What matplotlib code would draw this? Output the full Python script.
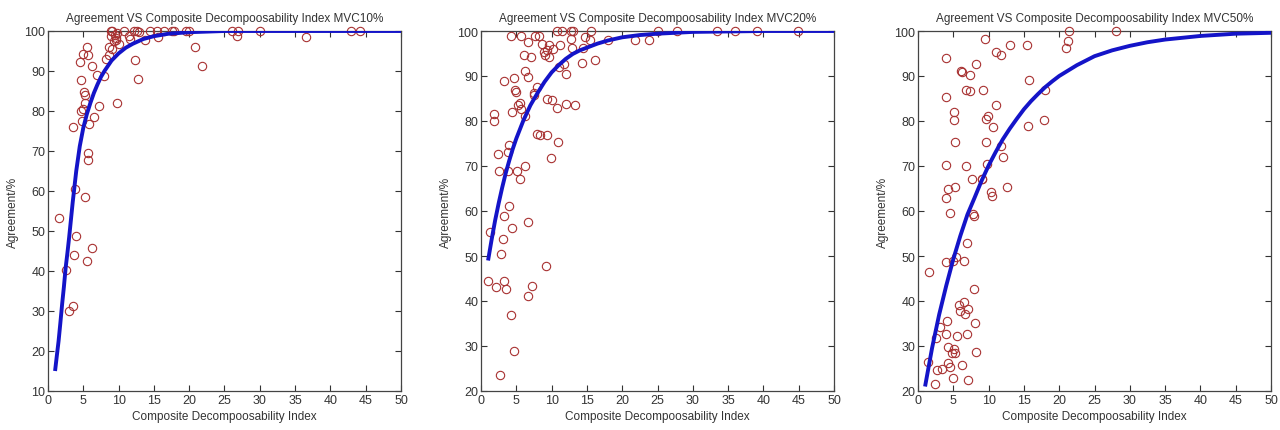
import matplotlib
matplotlib.use("Agg")
import matplotlib.pyplot as plt

plt.rcParams['font.family'] = ['Liberation Sans Narrow', 'Liberation Sans', 'DejaVu Sans']

# ---- MVC10% ----
cdi_10 = [1.56, 2.6, 3.0, 3.6, 3.7, 4.0, 3.8, 3.5, 5.5, 6.2, 5.3, 5.6, 5.6, 6.5, 7.2,
          5.8, 4.8, 4.7, 5.0, 5.3, 5.1, 5.3, 4.7, 4.6, 5.0, 5.7, 5.5, 6.2, 6.9, 7.9,
          8.2, 8.7, 9.0, 9.3, 8.9, 8.9, 9.1, 9.5, 9.8, 9.7, 9.8, 10.8, 11.5, 11.6, 12.2,
          12.6, 12.9, 12.3, 12.8, 13.8, 14.4, 15.4, 15.6, 16.5, 17.6, 17.9, 19.6, 20.0,
          20.8, 21.8, 26.1, 26.8, 26.9, 30.0, 36.5, 42.9, 44.2, 9.6, 10.0, 8.6]
agr_10 = [53.2, 40.3, 29.9, 31.3, 44.0, 48.7, 60.4, 76.0, 42.6, 45.7, 58.4, 69.6, 67.7, 78.5, 81.2,
          76.7, 77.6, 79.9, 80.5, 82.1, 84.7, 84.1, 87.7, 92.2, 94.2, 94.0, 96.0, 91.2, 89.0, 88.8,
          92.9, 94.1, 95.6, 97.5, 98.7, 100, 100, 99.1, 99.4, 97.7, 82.0, 100, 98.7, 98.1, 100,
          100, 99.7, 92.7, 88.0, 97.8, 100, 100, 98.5, 100, 100, 100, 100, 100,
          95.9, 91.3, 100, 98.7, 100, 100, 98.4, 100, 100, 98.2, 96.8, 96.0]
fit_x_10 = [1, 1.25, 1.5, 1.75, 2, 2.25, 2.5, 2.75, 3, 3.5, 4, 4.5, 5, 5.5, 6, 6.5, 7, 7.5,
            8, 9, 10, 11, 12, 13.5, 15, 17, 20, 25, 50]
fit_y_10 = [15, 18.8, 22.5, 27, 31.7, 36, 40.8, 44.5, 48.5, 57.2, 65, 71.2, 75.8, 79.2, 82, 84.5,
            86.6, 88.5, 90, 92.6, 94.4, 95.8, 96.8, 98, 98.7, 99.3, 99.7, 100, 100]

# ---- MVC20% ----
cdi_20 = [1.0, 1.3, 1.9, 1.9, 2.1, 2.4, 2.6, 2.7, 2.8, 3.1, 3.2, 3.3, 3.3, 3.6, 3.8, 3.9,
          3.9, 3.8, 4.2, 4.3, 4.4, 4.4, 4.7, 4.7, 4.8, 4.9, 5.1, 5.2, 5.5, 5.5, 5.6, 5.6,
          6.1, 6.2, 6.2, 6.3, 6.6, 6.6, 6.7, 6.7, 7.1, 7.2, 7.5, 7.5, 7.7, 7.9, 8.0, 8.2,
          8.3, 8.6, 8.9, 9.0, 9.2, 9.3, 9.3, 9.4, 9.6, 9.7, 9.97, 10.1, 10.2, 10.7, 10.7,
          10.9, 11.0, 11.2, 11.5, 11.8, 12.0, 12.1, 12.7, 12.8, 13.0, 12.9, 13.3, 14.3,
          14.4, 14.7, 15.5, 15.6, 16.1, 18.0, 21.8, 23.8, 25.0, 27.8, 33.4, 36.0, 39.1, 44.9]
agr_20 = [44.5, 55.4, 81.6, 80.1, 43.2, 72.7, 68.9, 23.5, 50.4, 53.8, 59.0, 88.8, 44.5, 42.6, 73.2, 74.7,
          61.2, 69.0, 98.8, 36.8, 56.3, 82.0, 89.5, 28.9, 86.8, 86.4, 68.8, 83.6, 84.0, 67.1, 98.8, 82.7,
          94.6, 81.2, 70.1, 91.2, 89.8, 97.6, 41.2, 57.5, 94.2, 43.4, 86.2, 85.7, 99.0, 77.1, 87.5, 99.0,
          76.9, 97.2, 95.3, 94.6, 47.7, 76.9, 95.7, 84.9, 94.2, 96.8, 71.7, 84.6, 95.9, 100, 82.9,
          75.4, 92.0, 96.8, 100, 92.7, 90.5, 83.8, 98.3, 100, 100, 96.2, 83.6, 92.9,
          96.2, 98.7, 97.9, 100, 93.5, 98.1, 97.9, 97.9, 100, 100, 100, 100, 100, 100]
fit_x_20 = [1, 1.5, 2, 2.5, 3, 3.5, 4, 4.5, 5, 6, 7, 8, 9, 10, 11, 12, 13, 14, 15, 16.5,
            18, 20, 22.5, 25, 30, 35, 40, 50]
fit_y_20 = [49, 53.6, 57.9, 61.7, 65.2, 68.4, 71.2, 73.8, 76.1, 80.1, 83.5, 86.2, 88.7, 90.8,
            92.4, 93.8, 94.9, 95.7, 96.3, 97.2, 97.9, 98.6, 99.1, 99.4, 99.8, 99.9, 100, 100]

# ---- MVC50% ----
cdi_50 = [1.6, 1.4, 2.4, 2.6, 2.7, 3.1, 3.4, 3.9, 4.0, 4.0, 4.0, 4.0, 4.1, 4.0, 4.2, 4.3,
          4.3, 4.6, 4.6, 4.8, 4.9, 5.0, 5.1, 5.1, 5.1, 5.2, 5.3, 5.4, 5.5, 5.3, 5.8, 5.9,
          6.1, 6.3, 6.3, 6.5, 6.5, 6.7, 6.8, 6.8, 6.9, 6.9, 7.1, 7.1, 7.3, 7.4, 7.7, 7.8,
          8.0, 7.9, 8.1, 8.2, 8.2, 9.0, 9.1, 9.2, 9.5, 9.6, 9.7, 9.9, 9.8, 10.3, 10.5,
          10.6, 11.0, 11.0, 11.7, 11.8, 12.0, 12.6, 13.0, 15.5, 15.6, 15.7, 17.8, 18.0,
          21.0, 21.2, 21.4, 28.1]
agr_50 = [46.5, 26.5, 21.5, 31.7, 24.7, 34.2, 25.0, 94.0, 85.3, 70.3, 62.8, 48.6, 35.5, 32.6, 26.3, 65.0,
          29.8, 59.5, 25.3, 28.4, 23.0, 48.9, 29.3, 82.0, 80.3, 75.3, 65.4, 49.7, 32.2, 28.5, 39.1, 37.8,
          91.2, 91.0, 25.8, 39.8, 48.9, 37.1, 87.0, 70.1, 53.0, 32.6, 22.4, 38.3, 86.6, 90.3, 67.1, 59.3,
          58.8, 42.6, 35.2, 92.6, 28.7, 67.1, 67.1, 87.0, 98.3, 75.4, 80.5, 81.2, 70.5, 64.3, 63.4,
          78.6, 83.5, 95.3, 94.7, 74.4, 71.9, 65.3, 96.8, 96.8, 79.0, 89.2, 80.3, 87.0,
          96.2, 97.7, 100, 100]
fit_x_50 = [1, 2, 3, 4, 5, 6, 7, 8, 9, 10, 11, 12, 13, 14, 15, 16, 17, 18, 19, 20,
            22.5, 25, 27.5, 30, 32.5, 35, 37.5, 40, 45, 50]
fit_y_50 = [21, 29.6, 37.0, 43.4, 49.3, 54.5, 59.2, 62.9, 66.7, 70.1, 73.1, 75.9, 78.3, 80.5,
            82.6, 84.4, 86.0, 87.5, 88.8, 90.0, 92.4, 94.4, 95.7, 96.7, 97.5, 98.1, 98.5, 98.9,
            99.4, 99.6]

panels = [
    ("Agreement VS Composite Decompoosability Index MVC10%", cdi_10, agr_10, fit_x_10, fit_y_10, 10,
     [10, 20, 30, 40, 50, 60, 70, 80, 90, 100]),
    ("Agreement VS Composite Decompoosability Index MVC20%", cdi_20, agr_20, fit_x_20, fit_y_20, 20,
     [20, 30, 40, 50, 60, 70, 80, 90, 100]),
    ("Agreement VS Composite Decompoosability Index MVC50%", cdi_50, agr_50, fit_x_50, fit_y_50, 20,
     [20, 30, 40, 50, 60, 70, 80, 90, 100]),
]
x_ticks = [0, 5, 10, 15, 20, 25, 30, 35, 40, 45, 50]

W, H = 1280, 431
fig = plt.figure(figsize=(W / 100, H / 100), dpi=100)
lefts = [48, 481, 918]
ax_w, ax_top, ax_bot = 353, 32, 392
text_col = '#333333'

for left, (title, xs, ys, fx, fy, ymin, yticks) in zip(lefts, panels):
    ax = fig.add_axes([left / W, 1 - ax_bot / H, ax_w / W, (ax_bot - ax_top) / H])
    ax.plot(xs, ys, 'o', ms=6, mfc='none', mec='#a83232', mew=0.8, clip_on=False, zorder=3)
    ax.plot(fx, fy, '-', color='#1414c8', lw=2.8, solid_capstyle='butt',
            solid_joinstyle='round', zorder=4)
    ax.set_xlim(0, 50)
    ax.set_ylim(ymin, 100)
    ax.set_xticks(x_ticks)
    ax.set_yticks(yticks)
    ax.tick_params(direction='in', top=True, right=True, length=4, width=0.8,
                   labelsize=9, colors=text_col, pad=2)
    for s in ax.spines.values():
        s.set_color('#444444')
        s.set_linewidth(0.9)
    ax.set_title(title, fontsize=8.5, color=text_col, pad=7)
    ax.set_xlabel("Composite Decompoosability Index", fontsize=8.5, color=text_col, labelpad=3)
    ax.set_ylabel("Agreement/%", fontsize=8.5, color=text_col, labelpad=4)

fig.savefig("out.png", dpi=100, facecolor='white')
